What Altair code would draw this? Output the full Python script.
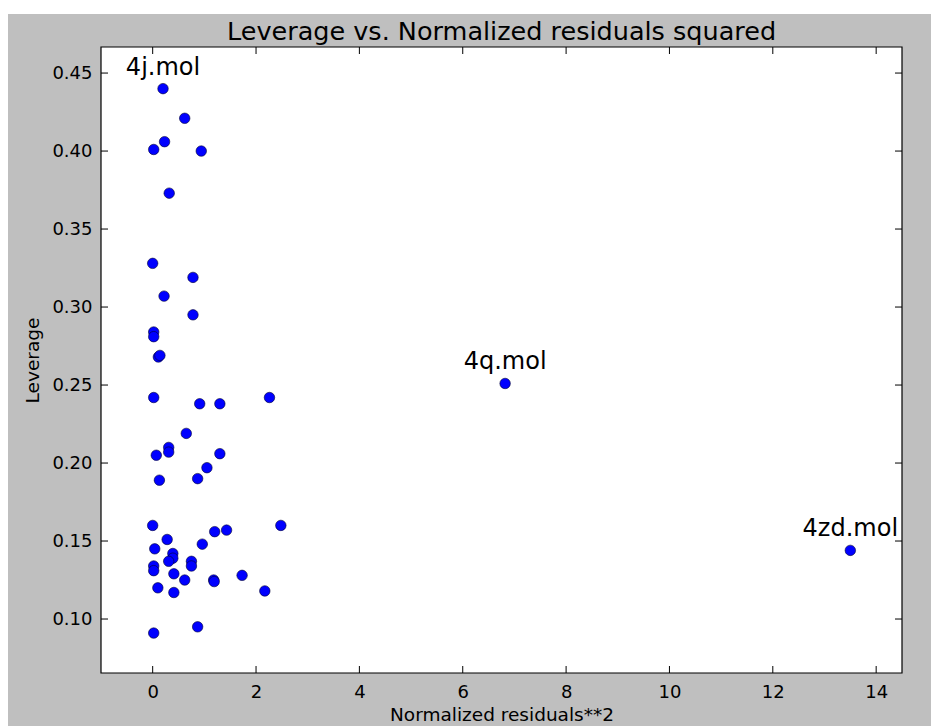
import altair as alt
import pandas as pd

# Normalized residuals squared (x) and leverage (y)
resid_sq = [0.20, 0.62, 0.23, 0.02, 0.94, 0.32, 0.00, 0.78, 0.22, 0.78,
            0.02, 0.02, 0.11, 0.14, 0.02, 0.91, 1.30, 2.26, 0.65, 0.07,
            0.31, 0.31, 1.30, 1.05, 0.13, 0.87, 0.00, 0.28, 1.20, 1.43,
            0.96, 0.04, 0.39, 0.39, 0.31, 0.75, 0.75, 0.02, 0.02, 0.41,
            0.62, 1.18, 1.19, 1.73, 0.10, 0.41, 2.17, 2.48, 0.02, 0.87,
            6.82, 13.50]
leverage = [0.440, 0.421, 0.406, 0.401, 0.400, 0.373, 0.328, 0.319, 0.307, 0.295,
            0.284, 0.281, 0.268, 0.269, 0.242, 0.238, 0.238, 0.242, 0.219, 0.205,
            0.210, 0.207, 0.206, 0.197, 0.189, 0.190, 0.160, 0.151, 0.156, 0.157,
            0.148, 0.145, 0.142, 0.139, 0.137, 0.137, 0.134, 0.134, 0.131, 0.129,
            0.125, 0.125, 0.124, 0.128, 0.120, 0.117, 0.118, 0.160, 0.091, 0.095,
            0.251, 0.144]

label_names = ["4j.mol", "4q.mol", "4zd.mol"]
label_x = [0.20, 6.82, 13.50]
label_y = [0.440, 0.251, 0.144]

x_ticks = [0, 2, 4, 6, 8, 10, 12, 14]
y_ticks = [0.10, 0.15, 0.20, 0.25, 0.30, 0.35, 0.40, 0.45]

title_text = "Leverage vs. Normalized residuals squared"

x_domain = [-1, 14.5]
y_domain = [0.0654, 0.4667]

W, H = 801, 626
PAD_L, PAD_T = 101, 47
FIG_L, FIG_T = 8, 14
FONT = "DejaVu Sans"
TICK = 7

pts = pd.DataFrame({"x": resid_sq, "y": leverage})
labs = pd.DataFrame({"x": label_x, "y": label_y, "name": label_names})
xt = pd.DataFrame({"x": x_ticks})
yt = pd.DataFrame({"y": y_ticks})

xs = alt.Scale(domain=x_domain, nice=False, zero=False)
ys = alt.Scale(domain=y_domain, nice=False, zero=False)
x_axis = alt.Axis(values=x_ticks, format="d", title="Normalized residuals**2", zindex=1)
y_axis = alt.Axis(values=y_ticks, format=".2f", title="Leverage", zindex=1)
X = alt.X("x:Q", scale=xs, axis=x_axis)
Y = alt.Y("y:Q", scale=ys, axis=y_axis)

# gray figure patch (page stays white above and left of it)
fig_bg = alt.Chart(alt.Data(values=[{"s": "fig"}])).mark_rect(
    fill="#bfbfbf", clip=False
).encode(
    x=alt.value(FIG_L - PAD_L), x2=alt.value(931 - PAD_L),
    y=alt.value(FIG_T - PAD_T), y2=alt.value(726 - PAD_T))
# white axes patch with black frame
ax_bg = alt.Chart(alt.Data(values=[{"s": "axes"}])).mark_rect(
    fill="white", stroke="black", strokeWidth=1.2, clip=False
).encode(x=alt.value(0), x2=alt.value(W), y=alt.value(0), y2=alt.value(H))

title = alt.Chart(alt.Data(values=[{"t": title_text}])).mark_text(
    font=FONT, fontSize=25.5, color="black", align="center", baseline="alphabetic",
    clip=False
).encode(x=alt.value(W / 2), y=alt.value(-7), text="t:N")

points = alt.Chart(pts).mark_circle(
    size=110, color="#0000ff", opacity=1, stroke="#000033", strokeWidth=0.6
).encode(x=X, y=Y)

texts = alt.Chart(labs).mark_text(
    font=FONT, fontSize=24, color="black", align="center",
    baseline="alphabetic", dy=-14
).encode(x=X, y=Y, text="name:N")

tick_bottom = alt.Chart(xt).mark_rule(color="black", strokeWidth=1).encode(
    x=X, y=alt.value(H), y2=alt.value(H - TICK))
tick_top = alt.Chart(xt).mark_rule(color="black", strokeWidth=1).encode(
    x=X, y=alt.value(0), y2=alt.value(TICK))
tick_left = alt.Chart(yt).mark_rule(color="black", strokeWidth=1).encode(
    y=Y, x=alt.value(0), x2=alt.value(TICK))
tick_right = alt.Chart(yt).mark_rule(color="black", strokeWidth=1).encode(
    y=Y, x=alt.value(W), x2=alt.value(W - TICK))

chart = alt.layer(
    fig_bg, ax_bg, title, points, texts,
    tick_bottom, tick_top, tick_left, tick_right
).properties(
    width=W, height=H,
    padding={"left": PAD_L, "top": PAD_T, "right": 931 - PAD_L - W, "bottom": 726 - PAD_T - H},
    autosize=alt.AutoSizeParams(type="none"),
    background="white",
).configure_view(
    stroke=None, fill=None
).configure_axis(
    labelFont=FONT, labelFontSize=18, labelColor="black",
    titleFont=FONT, titleFontSize=18.5, titleFontWeight="normal", titleColor="black",
    ticks=False, domain=False, grid=False,
).configure_axisX(
    labelPadding=10, titlePadding=4
).configure_axisY(
    labelPadding=9, titlePadding=9
)

chart.save("out.html", embed_options={"renderer": "svg", "actions": False})
